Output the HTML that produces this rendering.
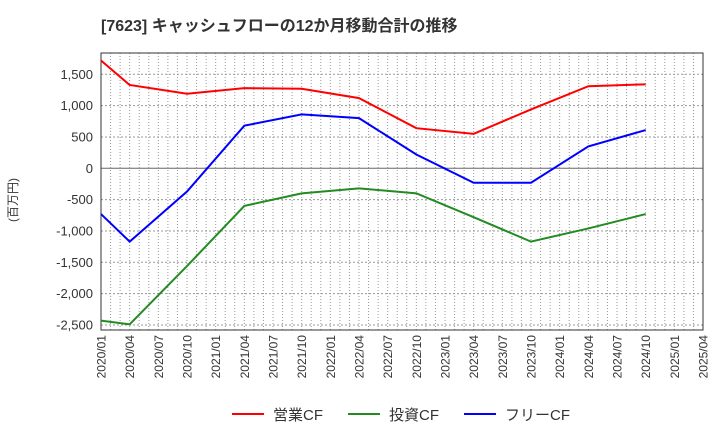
<!DOCTYPE html>
<html><head><meta charset="utf-8"><style>
body{margin:0;background:#fff;width:720px;height:440px;overflow:hidden;font-family:"Liberation Sans","Noto Sans CJK JP",sans-serif;}
</style></head><body>
<svg id="c" width="720" height="440" xmlns="http://www.w3.org/2000/svg">
<text x="101" y="31" font-size="16" font-weight="bold" fill="#333">[7623]  キャッシュフローの12か月移動合計の推移</text>
<text transform="translate(17,200) rotate(-90)" font-size="12" fill="#333" text-anchor="middle">(百万円)</text>
<g id="grid"></g><g id="axes"></g><g id="series"></g>
<g>
<line x1="232" y1="414" x2="264" y2="414" stroke="#f00" stroke-width="2"/><text x="273" y="420" font-size="15" fill="#333">営業CF</text>
<line x1="348" y1="414" x2="380" y2="414" stroke="#228b22" stroke-width="2"/><text x="389" y="420" font-size="15" fill="#333">投資CF</text>
<line x1="464" y1="414" x2="496" y2="414" stroke="#00f" stroke-width="2"/><text x="505" y="420" font-size="15" fill="#333">フリーCF</text>
</g>
</svg>
<script>
const xLabels=["2020/01","2020/04","2020/07","2020/10","2021/01","2021/04","2021/07","2021/10","2022/01","2022/04","2022/07","2022/10","2023/01","2023/04","2023/07","2023/10","2024/01","2024/04","2024/07","2024/10","2025/01","2025/04"];
const yTicks=[1500,1000,500,0,-500,-1000,-1500,-2000,-2500];
const dataIdx=[0,1,3,5,7,9,11,13,15,17,19];
const operatingCF=[1720,1330,1190,1280,1270,1120,640,550,940,1310,1340];
const investingCF=[-2430,-2490,-1560,-600,-400,-320,-400,-780,-1170,-960,-730];
const freeCF=[-730,-1170,-370,680,860,800,220,-230,-230,350,610];
const L=101,R=703,T=53,B=330;
const NS="http://www.w3.org/2000/svg";
const xq=i=>L+i*(R-L)/21;
const y=v=>168.3-v*(94/1500);
function mk(tag,at,parent){const e=document.createElementNS(NS,tag);for(const k in at)e.setAttribute(k,at[k]);document.getElementById(parent).appendChild(e);return e;}
for(let m=1;m<63;m++){const x=L+m*(R-L)/63;
const g=mk('line',{x1:x,y1:T,x2:x,y2:B,stroke:'#999','stroke-dasharray':'1,2','stroke-width':1},'grid');

}
yTicks.forEach(v=>{const yy=y(v);
const g=mk('line',{x1:L,y1:yy,x2:R,y2:yy,stroke:v===0?'#666':'#999','stroke-dasharray':v===0?'none':'2,2','stroke-width':1},'grid');


const t=mk('text',{x:93,y:yy+4.5,'font-size':13,fill:'#333','text-anchor':'end'},'axes');t.textContent=v.toLocaleString('en-US');

});
const fr=mk('rect',{x:L,y:T,width:R-L,height:B-T,fill:'none',stroke:'#333'},'axes');


xLabels.forEach((s,i)=>{const x=xq(i);
const t=mk('text',{transform:`translate(${x+4.5},${B+5}) rotate(-90)`,'font-size':12,fill:'#333','text-anchor':'end'},'axes');t.textContent=s;

});
[[operatingCF,'#f00','operating-cf-line'],[investingCF,'#228b22','investing-cf-line'],[freeCF,'#00f','free-cf-line']].forEach(([d,c,n])=>{
const p=mk('polyline',{points:d.map((v,i)=>xq(dataIdx[i])+','+y(v)).join(' '),fill:'none',stroke:c,'stroke-width':2},'series');

});
</script>
</body></html>
